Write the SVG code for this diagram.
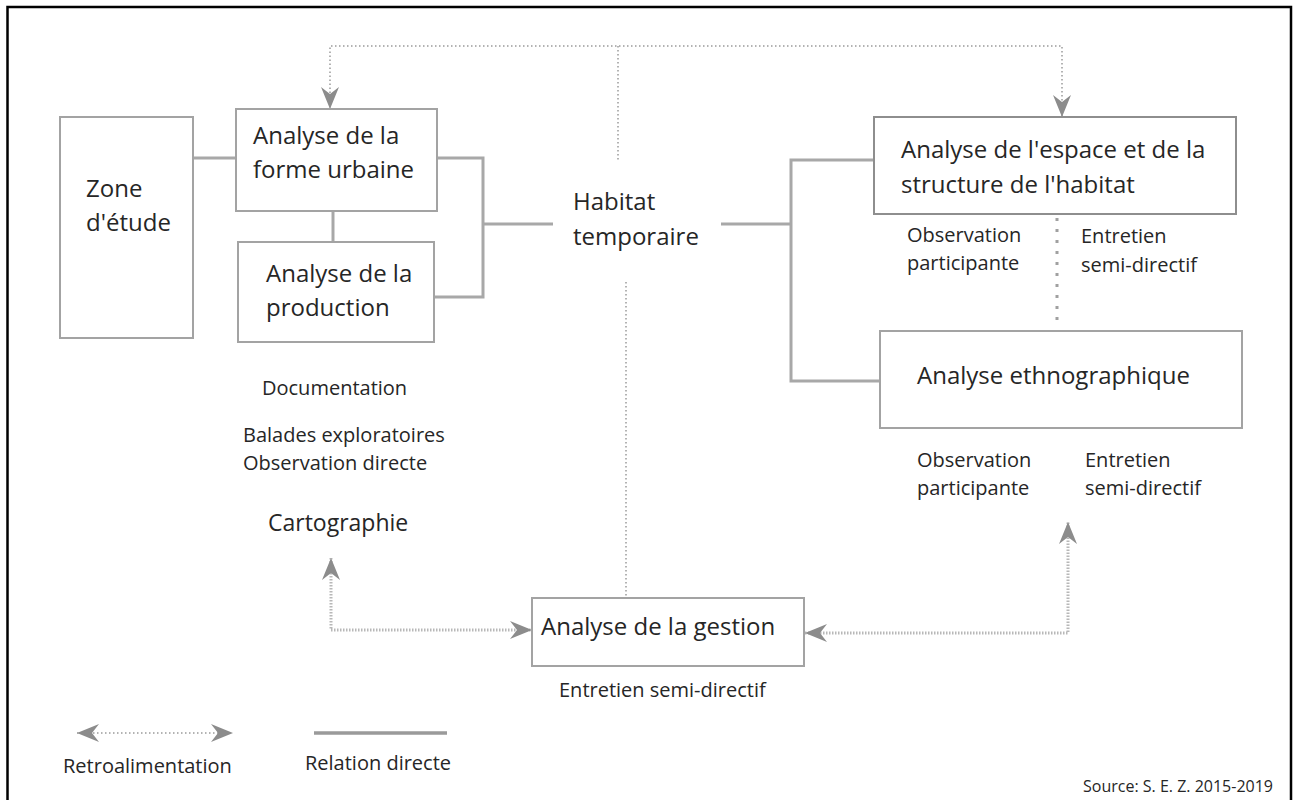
<svg xmlns="http://www.w3.org/2000/svg" width="1293" height="800" viewBox="0 0 1293 800">
<style>
text{font-family:"Open Sans","Liberation Sans",sans-serif;fill:#262626}
.big{font-size:24px}
.sm{font-size:20px}
.box{fill:#fff;stroke:#a3a3a3;stroke-width:2}
.solid{fill:none;stroke:#a8a8a8;stroke-width:3}
.thin{fill:none;stroke:#9a9a9a;stroke-width:1.5;stroke-dasharray:1.5 2.5}
.thick{fill:none;stroke:#b8b8b8;stroke-width:3;stroke-dasharray:1.5 1.5}
.dots{fill:none;stroke:#a0a0a0;stroke-width:3;stroke-dasharray:3 8}
</style>
<defs>
<marker id="arr" viewBox="0 0 22 18" refX="22" refY="9" markerWidth="22" markerHeight="18" markerUnits="userSpaceOnUse" orient="auto-start-reverse">
<path d="M0,0 L22,9 L0,18 L7,9 Z" fill="#8c8c8c"/>
</marker>
</defs>
<rect x="7.5" y="7" width="1283.5" height="810" fill="#fff" stroke="#000" stroke-width="2.5"/>
<g id="connectors">
<path class="thin" d="M330,109 V46 H1062 V117" marker-start="url(#arr)" marker-end="url(#arr)"/>
<path class="thin" d="M618,46 V160"/>
<path class="thin" d="M626,282 V598"/>
<path class="dots" d="M1057,218 V328"/>
<path class="thick" d="M331,558 V630 H532" marker-start="url(#arr)" marker-end="url(#arr)"/>
<path class="thick" d="M805,633 H1068 V522" marker-start="url(#arr)" marker-end="url(#arr)"/>
<path class="solid" d="M193,158 H236"/>
<path class="solid" d="M333,211 V242"/>
<path class="solid" d="M437,158 H483 V297 H434"/>
<path class="solid" d="M483,224 H553"/>
<path class="solid" d="M721,224 H791"/>
<path class="solid" d="M874,160 H791 V381 H880"/>
</g>
<g id="zone">
<rect class="box" x="60" y="117" width="133" height="221"/>
<text class="big" x="86" y="197">Zone</text>
<text class="big" x="86" y="231">d'étude</text>
</g>
<g id="forme">
<rect class="box" x="236" y="109" width="201" height="102"/>
<text class="big" x="253" y="144">Analyse de la</text>
<text class="big" x="253" y="178">forme urbaine</text>
</g>
<g id="production">
<rect class="box" x="238" y="242" width="196" height="100"/>
<text class="big" x="266" y="282">Analyse de la</text>
<text class="big" x="266" y="316">production</text>
</g>
<g id="production-methods">
<text class="sm" x="262" y="395">Documentation</text>
<text class="sm" x="243" y="442">Balades exploratoires</text>
<text class="sm" x="243" y="470">Observation directe</text>
<text class="big" style="font-size:23px" x="268" y="531">Cartographie</text>
</g>
<g id="habitat">
<text class="big" x="573" y="210">Habitat</text>
<text class="big" x="573" y="245">temporaire</text>
</g>
<g id="espace">
<rect class="box" x="874" y="117" width="362" height="97" style="stroke:#8e8e8e"/>
<text class="big" x="901" y="158">Analyse de l'espace et de la</text>
<text class="big" x="901" y="193">structure de l'habitat</text>
<text class="sm" x="907" y="242">Observation</text>
<text class="sm" x="907" y="270">participante</text>
<text class="sm" x="1081" y="243">Entretien</text>
<text class="sm" x="1081" y="272">semi-directif</text>
</g>
<g id="ethno">
<rect class="box" x="880" y="331" width="362" height="97"/>
<text class="big" x="917" y="384">Analyse ethnographique</text>
<text class="sm" x="917" y="467">Observation</text>
<text class="sm" x="917" y="495">participante</text>
<text class="sm" x="1085" y="467">Entretien</text>
<text class="sm" x="1085" y="495">semi-directif</text>
</g>
<g id="gestion">
<rect class="box" x="532" y="598" width="272" height="68"/>
<text class="big" x="541" y="635">Analyse de la gestion</text>
<text class="sm" x="559" y="697">Entretien semi-directif</text>
</g>
<g id="legend">
<path class="thin" d="M77,733 H233" marker-start="url(#arr)" marker-end="url(#arr)"/>
<path d="M314,733 H447" fill="none" stroke="#9a9a9a" stroke-width="3.5"/>
<text class="sm" x="63" y="773">Retroalimentation</text>
<text class="sm" x="305" y="770">Relation directe</text>
<text style="font-size:16px" x="1083" y="792">Source: S. E. Z. 2015-2019</text>
</g>
</svg>
